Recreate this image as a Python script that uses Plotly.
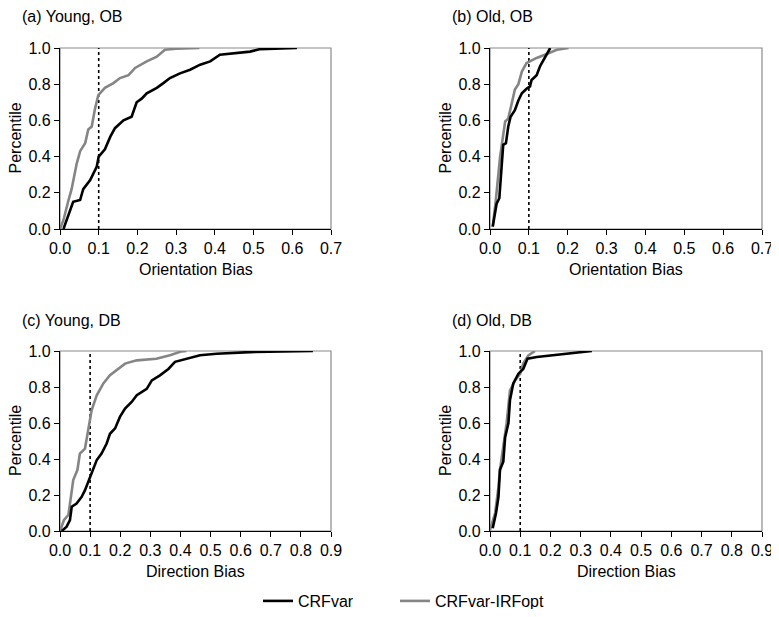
import plotly.graph_objects as go

# ---------------- data ----------------
# (a) Young, OB
a_crf_x = [0.009, 0.017, 0.034, 0.052, 0.06, 0.078, 0.095, 0.10, 0.116, 0.13, 0.142, 0.164, 0.185, 0.198, 0.211, 0.224, 0.25, 0.267, 0.284, 0.31, 0.336, 0.362, 0.388, 0.413, 0.448, 0.491, 0.517, 0.56, 0.612]
a_crf_y = [0.0, 0.05, 0.15, 0.16, 0.22, 0.27, 0.345, 0.40, 0.44, 0.51, 0.557, 0.60, 0.62, 0.70, 0.72, 0.75, 0.78, 0.806, 0.834, 0.86, 0.88, 0.908, 0.926, 0.963, 0.972, 0.98, 0.994, 0.998, 1.0]
a_irf_x = [0.0, 0.009, 0.022, 0.03, 0.043, 0.052, 0.065, 0.073, 0.082, 0.09, 0.099, 0.116, 0.138, 0.155, 0.177, 0.194, 0.224, 0.25, 0.271, 0.30, 0.36]
a_irf_y = [0.0, 0.05, 0.16, 0.22, 0.36, 0.43, 0.474, 0.55, 0.566, 0.66, 0.74, 0.78, 0.806, 0.834, 0.85, 0.89, 0.926, 0.952, 0.99, 0.996, 1.0]

# (b) Old, OB
b_crf_x = [0.007, 0.017, 0.024, 0.03, 0.034, 0.041, 0.047, 0.053, 0.064, 0.073, 0.082, 0.094, 0.103, 0.107, 0.12, 0.129, 0.142, 0.155]
b_crf_y = [0.013, 0.14, 0.17, 0.345, 0.465, 0.474, 0.566, 0.62, 0.657, 0.71, 0.75, 0.775, 0.788, 0.823, 0.85, 0.90, 0.954, 1.0]
b_irf_x = [0.007, 0.015, 0.026, 0.034, 0.039, 0.047, 0.056, 0.064, 0.073, 0.082, 0.094, 0.12, 0.146, 0.172, 0.202]
b_irf_y = [0.013, 0.16, 0.40, 0.53, 0.594, 0.61, 0.696, 0.77, 0.80, 0.87, 0.917, 0.945, 0.967, 0.99, 1.0]

# (c) Young, DB
c_crf_x = [0.006, 0.022, 0.033, 0.039, 0.055, 0.072, 0.083, 0.10, 0.122, 0.138, 0.155, 0.166, 0.183, 0.199, 0.216, 0.238, 0.255, 0.288, 0.305, 0.332, 0.36, 0.382, 0.42, 0.465, 0.52, 0.63, 0.84]
c_crf_y = [0.0, 0.024, 0.06, 0.135, 0.153, 0.19, 0.227, 0.30, 0.394, 0.43, 0.486, 0.54, 0.57, 0.634, 0.68, 0.717, 0.754, 0.79, 0.837, 0.865, 0.90, 0.94, 0.957, 0.976, 0.985, 0.994, 1.0]
c_irf_x = [0.0, 0.013, 0.028, 0.033, 0.044, 0.058, 0.066, 0.083, 0.094, 0.105, 0.122, 0.144, 0.166, 0.188, 0.216, 0.255, 0.32, 0.365, 0.404, 0.42]
c_irf_y = [0.0, 0.06, 0.09, 0.153, 0.283, 0.34, 0.43, 0.458, 0.56, 0.67, 0.754, 0.82, 0.865, 0.893, 0.93, 0.948, 0.957, 0.976, 0.998, 1.0]

# (d) Old, DB
d_crf_x = [0.009, 0.02, 0.028, 0.033, 0.044, 0.05, 0.061, 0.066, 0.077, 0.094, 0.11, 0.124, 0.155, 0.22, 0.337]
d_crf_y = [0.015, 0.10, 0.19, 0.34, 0.385, 0.52, 0.60, 0.726, 0.82, 0.874, 0.90, 0.957, 0.967, 0.98, 1.0]
d_irf_x = [0.0, 0.017, 0.028, 0.033, 0.044, 0.055, 0.066, 0.083, 0.10, 0.11, 0.127, 0.149]
d_irf_y = [0.005, 0.10, 0.245, 0.34, 0.47, 0.60, 0.78, 0.837, 0.874, 0.93, 0.976, 1.0]

threshold_x = [0.1, 0.1]
threshold_y = [0.0, 1.0]

panel_titles = ["(a) Young, OB", "(b) Old, OB", "(c) Young, DB", "(d) Old, DB"]
x_titles = ["Orientation Bias", "Orientation Bias", "Direction Bias", "Direction Bias"]
y_title = "Percentile"
x_max = [0.7, 0.7, 0.9, 0.9]
series_names = ["CRFvar", "CRFvar-IRFopt"]

panels = [
    (a_crf_x, a_crf_y, a_irf_x, a_irf_y),
    (b_crf_x, b_crf_y, b_irf_x, b_irf_y),
    (c_crf_x, c_crf_y, c_irf_x, c_irf_y),
    (d_crf_x, d_crf_y, d_irf_x, d_irf_y),
]

# ---------------- layout geometry ----------------
OFF = 8                              # page body margin in the browser
W, H = 779 - OFF, 617 - 2 * OFF
FONT = "Liberation Sans, Arial, sans-serif"


def px(xp):  # page x pixel -> paper fraction
    return (xp - OFF) / W


def py(yp):  # page y pixel -> paper fraction
    return 1 - (yp - OFF) / H


# plot areas in page pixels: (left, right, top, bottom)
boxes = [(60, 331, 48, 229), (490, 762, 48, 229), (60, 331, 351, 531), (490, 762, 351, 531)]

fig = go.Figure()
legend_common = dict(orientation="h", xanchor="left", yanchor="middle", y=py(601),
                     font=dict(size=16, family=FONT), bgcolor="rgba(0,0,0,0)", itemwidth=30)
layout = dict(
    width=W, height=H, autosize=False,
    margin=dict(l=0, r=0, t=0, b=0, pad=0, autoexpand=False),
    paper_bgcolor="white", plot_bgcolor="white",
    font=dict(family=FONT, size=16, color="black"),
    showlegend=True,
    legend=dict(x=px(258), **legend_common),
    legend2=dict(x=px(395), **legend_common),
)
annotations = []
shapes = []

for i, (cx, cy, ix, iy) in enumerate(panels):
    k = "" if i == 0 else str(i + 1)
    xa, ya = "x" + k, "y" + k
    l, r, t, b = boxes[i]
    fig.add_trace(go.Scatter(x=threshold_x, y=threshold_y, mode="lines",
                             line=dict(color="black", width=1.6, dash="dot"),
                             xaxis=xa, yaxis=ya, showlegend=False, hoverinfo="skip"))
    fig.add_trace(go.Scatter(x=ix, y=iy, mode="lines", name=series_names[1],
                             line=dict(color="#858585", width=2.6),
                             xaxis=xa, yaxis=ya, showlegend=(i == 0), legend="legend2"))
    fig.add_trace(go.Scatter(x=cx, y=cy, mode="lines", name=series_names[0],
                             line=dict(color="black", width=2.6),
                             xaxis=xa, yaxis=ya, showlegend=(i == 0), legend="legend"))
    axis_common = dict(showgrid=False, zeroline=False, showline=True, linecolor="black",
                       linewidth=1.3, ticks="outside", ticklen=5, tickwidth=1.2, automargin=False,
                       ticklabeloverflow="allow",
                       tickcolor="black", tickfont=dict(size=16, family=FONT))
    layout["xaxis" + k] = dict(domain=[px(l), px(r)], anchor=ya, range=[0, x_max[i]],
                               dtick=0.1, tick0=0, tickformat=".1f", **axis_common)
    layout["yaxis" + k] = dict(domain=[py(b), py(t)], anchor=xa, range=[0, 1],
                               dtick=0.2, tick0=0, tickformat=".1f", **axis_common)
    # grey frame (top/right edges)
    shapes.append(dict(type="rect", xref=xa + " domain", yref=ya + " domain", x0=0, x1=1, y0=0, y1=1,
                       line=dict(color="#8a8a8a", width=1.2), layer="below"))
    # panel title
    annotations.append(dict(text=panel_titles[i], x=px(l - 40), y=py(t - 31),
                            xref="paper", yref="paper", xanchor="left", yanchor="middle",
                            showarrow=False, font=dict(size=16, family=FONT)))
    # axis titles
    annotations.append(dict(text=x_titles[i], x=px((l + r) / 2), y=py(b + 40),
                            xref="paper", yref="paper", xanchor="center", yanchor="middle",
                            showarrow=False, font=dict(size=16, family=FONT)))
    annotations.append(dict(text=y_title, x=px(l - 45), y=py((t + b) / 2),
                            xref="paper", yref="paper", xanchor="center", yanchor="middle",
                            textangle=-90, showarrow=False, font=dict(size=16, family=FONT)))

layout["annotations"] = annotations
layout["shapes"] = shapes
fig.update_layout(**layout)
fig.write_html("out.html")
